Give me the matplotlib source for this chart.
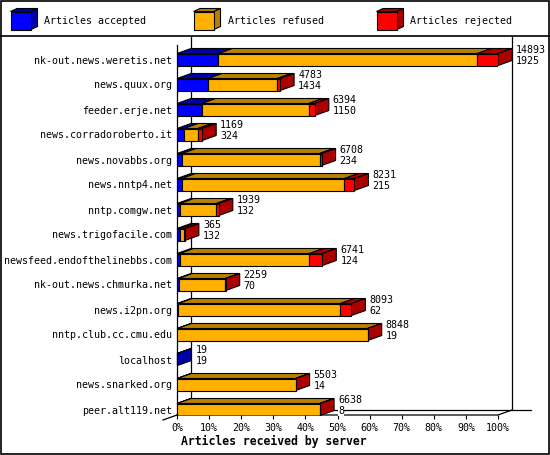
import matplotlib
matplotlib.use("Agg")
import matplotlib.pyplot as plt
from matplotlib.patches import Polygon, Rectangle
from matplotlib.lines import Line2D

plt.rcParams['font.family'] = ['DejaVu Sans Mono']

servers = ["nk-out.news.weretis.net", "news.quux.org", "feeder.erje.net",
           "news.corradoroberto.it", "news.novabbs.org", "news.nntp4.net",
           "nntp.comgw.net", "news.trigofacile.com", "newsfeed.endofthelinebbs.com",
           "nk-out.news.chmurka.net", "news.i2pn.org", "nntp.club.cc.cmu.edu",
           "localhost", "news.snarked.org", "peer.alt119.net"]
total = [14893, 4783, 6394, 1169, 6708, 8231, 1939, 365, 6741, 2259, 8093, 8848, 19, 5503, 6638]
accepted = [1925, 1434, 1150, 324, 234, 215, 132, 132, 124, 70, 62, 19, 19, 14, 8]
refused = [12008, 3219, 4964, 640, 6384, 7556, 1697, 200, 6017, 2179, 7521, 8824, 0, 5484, 6622]
rejected = [960, 130, 280, 205, 90, 460, 110, 33, 600, 10, 510, 5, 0, 5, 8]
series_names = ["Articles accepted", "Articles refused", "Articles rejected"]
xticks = [0, 10, 20, 30, 40, 50, 60, 70, 80, 90, 100]

front_cols = ["#0000FF", "#FFB000", "#FF0000"]
dark_cols = ["#0000AA", "#B88000", "#AA0000"]

W, H = 550, 455
fig = plt.figure(figsize=(W / 100, H / 100), dpi=100)
fig.patch.set_facecolor("white")

# background/decoration axes in pixel coordinates
bg = fig.add_axes([0, 0, 1, 1])
bg.set_xlim(0, W)
bg.set_ylim(H, 0)
bg.axis("off")
bg.add_patch(Rectangle((0.5, 0.5), W - 1.5, H - 1.5, fill=False, lw=1.2, ec="black"))
bg.add_line(Line2D([0, W], [36, 36], color="black", lw=1.2))

# legend cubes
fs = 7.2
leg_x = [10.5, 193.5, 376.5]
for i, name in enumerate(series_names):
    x0 = leg_x[i]
    y0, y1 = 11.5, 29.5
    x1 = x0 + 20.5
    d, dv = 6.5, 3
    bg.add_patch(Polygon([(x0, y0), (x1, y0), (x1 + d, y0 - dv), (x0 + d, y0 - dv)],
                         closed=True, fc=dark_cols[i], ec="black", lw=0.8))
    bg.add_patch(Polygon([(x1, y0), (x1, y1), (x1 + d, y1 - dv), (x1 + d, y0 - dv)],
                         closed=True, fc=dark_cols[i], ec="black", lw=0.8))
    bg.add_patch(Rectangle((x0, y0), x1 - x0, y1 - y0, fc=front_cols[i], ec="black", lw=0.8))
    bg.text(x0 + 34, 21, name, ha="left", va="center", fontsize=fs)

# main axes: x in percent, y in row index
left_px, right_px = 177, 498
top_px, bot_px = 36, 415
row0, rowstep = 59.5, 25.0
ax = fig.add_axes([left_px / W, (H - bot_px) / H, (right_px - left_px) / W, (bot_px - top_px) / H])
ax.set_xlim(0, 100)
ax.set_ylim((bot_px - row0) / rowstep, (top_px - row0) / rowstep)
ax.patch.set_alpha(0)
for s in ax.spines.values():
    s.set_visible(False)

pxx = (right_px - left_px) / 100.0
dx = 14 / pxx
dy = 5 / rowstep
hh = 6 / rowstep
ybot = (bot_px - row0) / rowstep

# walls / floor
lw = 0.9
ax.add_line(Line2D([0, 0], [(45 - row0) / rowstep, ybot], color="black", lw=lw, clip_on=False, zorder=1))
ax.add_line(Line2D([dx, dx], [(top_px - row0) / rowstep, ybot - dy], color="black", lw=lw, clip_on=False, zorder=1))
ax.add_line(Line2D([100 + dx, 100 + dx], [(top_px - row0) / rowstep, ybot - dy], color="black", lw=lw, clip_on=False, zorder=1))
ax.add_line(Line2D([dx, (531 - left_px) / pxx], [ybot - dy, ybot - dy], color="black", lw=lw, clip_on=False, zorder=1))
ax.add_line(Line2D([0, 100, 100 + dx], [ybot, ybot, ybot - dy], color="black", lw=lw, clip_on=False, zorder=1))
ax.add_line(Line2D([-dx, dx], [ybot + dy, ybot - dy], color="black", lw=lw, clip_on=False, zorder=1))

mx = max(total)
for r in range(len(servers)):
    vals = [accepted[r], refused[r], rejected[r]]
    left = 0.0
    last = 0
    for k, v in enumerate(vals):
        w = v / mx * 100
        if v <= 0:
            continue
        ax.add_patch(Polygon([(left, r - hh), (left + w, r - hh), (left + w + dx, r - hh - dy), (left + dx, r - hh - dy)],
                             closed=True, fc=dark_cols[k], ec="black", lw=0.8, zorder=3, clip_on=False))
        ax.barh(r, w, left=left, height=2 * hh, color=front_cols[k], edgecolor="black", linewidth=0.8, zorder=4)
        left += w
        last = k
    e = left
    ax.add_patch(Polygon([(e, r - hh), (e, r + hh), (e + dx, r + hh - dy), (e + dx, r - hh - dy)],
                         closed=True, fc=dark_cols[last], ec="black", lw=0.8, zorder=3, clip_on=False))
    tx = e + dx + 4 / pxx
    ax.text(tx, r - 9.5 / rowstep, str(total[r]), ha="left", va="center", fontsize=fs, zorder=5, clip_on=False,
            bbox=dict(fc="white", ec="none", pad=0))
    ax.text(tx, r + 1.5 / rowstep, str(accepted[r]), ha="left", va="center", fontsize=fs, zorder=5, clip_on=False,
            bbox=dict(fc="white", ec="none", pad=0))

ax.set_yticks(range(len(servers)))
ax.set_yticklabels(servers, fontsize=fs)
ax.tick_params(axis="y", length=0, pad=3.6)
ax.set_xticks(xticks)
ax.set_xticklabels([f"{v}%" for v in xticks], fontsize=fs)
ax.tick_params(axis="x", length=3, width=0.8, pad=3)

fig.text(274 / W, 1 - 441.5 / H, "Articles received by server", ha="center", va="center",
         fontsize=8.3, fontweight="bold")

fig.savefig("out.png", dpi=100)
